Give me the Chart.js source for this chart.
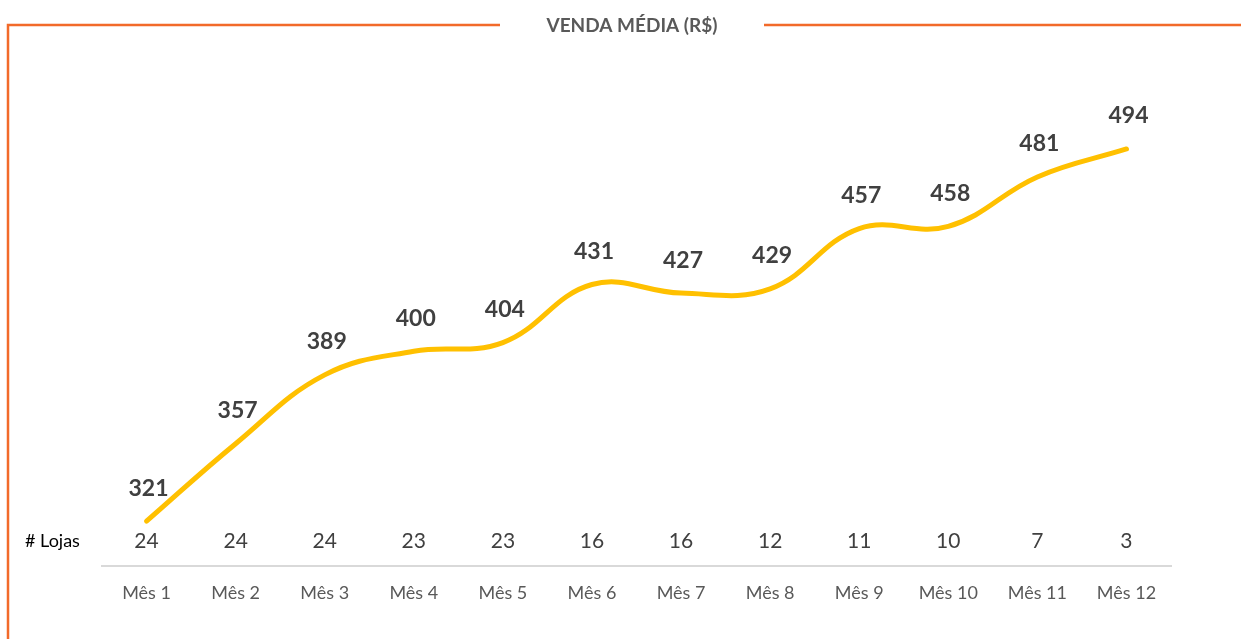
<!DOCTYPE html>
<html>
<head>
<meta charset="utf-8">
<script src="https://cdn.jsdelivr.net/npm/chart.js@4.4.1/dist/chart.umd.min.js"></script>
<style>
  html, body { margin: 0; padding: 0; background: #fff; }
  #wrap { width: 1241px; height: 639px; position: relative; }
</style>
</head>
<body>
<div id="wrap"><canvas id="vendaChart"></canvas></div>
<script>
const meses = ['Mês 1','Mês 2','Mês 3','Mês 4','Mês 5','Mês 6','Mês 7','Mês 8','Mês 9','Mês 10','Mês 11','Mês 12'];
const vendaMedia = [321, 357, 389, 400, 404, 431, 427, 429, 457, 458, 481, 494];
const lojas = [24, 24, 24, 23, 23, 16, 16, 12, 11, 10, 7, 3];
const titulo = 'VENDA MÉDIA (R$)';

const FONT = "Lato, 'Open Sans', sans-serif";

// frame + title + labels
const decor = {
    id: 'decor',
    beforeDraw(chart) {
        const ctx = chart.ctx;
        ctx.save();
        ctx.strokeStyle = '#F26A2A';
        ctx.lineWidth = 2.5;
        ctx.beginPath();
        ctx.moveTo(8, 640);
        ctx.lineTo(8, 25);
        ctx.lineTo(500, 25);
        ctx.moveTo(764, 25);
        ctx.lineTo(1241, 25);
        ctx.stroke();

        ctx.fillStyle = '#595959';
        ctx.font = "bold 19px " + FONT;
        ctx.textAlign = 'center';
        ctx.textBaseline = 'middle';
        ctx.fillText(titulo, 632, 26);
        ctx.restore();
    },
    afterDatasetsDraw(chart) {
        const ctx = chart.ctx;
        const x = chart.scales.x;
        const meta = chart.getDatasetMeta(0);
        ctx.save();
        ctx.textAlign = 'center';
        ctx.textBaseline = 'middle';

        // value labels
        ctx.fillStyle = '#404040';
        ctx.font = "bold 23px " + FONT;
        meta.data.forEach((pt, i) => {
            ctx.fillText(vendaMedia[i], pt.x + 2, pt.y - 33);
        });

        // # Lojas row
        ctx.font = "21px " + FONT;
        lojas.forEach((n, i) => {
            ctx.fillText(n, x.getPixelForValue(i), 541);
        });
        ctx.fillStyle = '#000';
        ctx.font = "18px " + FONT;
        ctx.textAlign = 'left';
        ctx.fillText('# Lojas', 25, 541);
        ctx.restore();
    }
};

new Chart(document.getElementById('vendaChart'), {
    type: 'line',
    data: {
        labels: meses,
        datasets: [{
            data: vendaMedia,
            borderColor: '#FFC000',
            borderWidth: 5,
            borderCapStyle: 'round',
            tension: 0.4,
            pointRadius: 0,
            fill: false
        }]
    },
    options: {
        responsive: true,
        maintainAspectRatio: false,
        animation: false,
        layout: { padding: { left: 102, right: 70, top: 93, bottom: 27 } },
        plugins: { legend: { display: false }, tooltip: { enabled: false } },
        scales: {
            x: {
                offset: true,
                grid: { display: false },
                border: { color: '#D9D9D9', width: 2 },
                ticks: { color: '#595959', font: { family: FONT, size: 18 }, padding: 8 }
            },
            y: { display: false, min: 300, max: 520 }
        }
    },
    plugins: [decor]
});
</script>
</body>
</html>
